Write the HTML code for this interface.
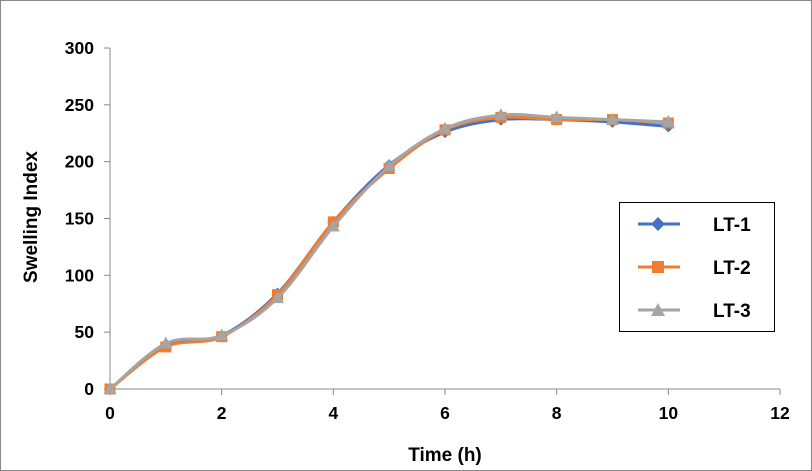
<!DOCTYPE html>
<html><head><meta charset="utf-8"><style>
body{margin:0;background:#fff}
svg{display:block;font-family:"Liberation Sans",Arial,sans-serif}
</style></head><body>
<svg id="chart" width="812" height="471" viewBox="0 0 812 471">
<rect x="0.5" y="0.5" width="811" height="470" fill="#fff" stroke="#888"/>
<g id="axes"></g>
<g id="series"></g>
<text x="445" y="461" text-anchor="middle" font-size="19" font-weight="bold">Time (h)</text>
<text transform="translate(37,217) rotate(-90)" text-anchor="middle" font-size="19" font-weight="bold">Swelling Index</text>
<g>
<rect x="619.5" y="202.5" width="155" height="129" fill="#fff" stroke="#000"/>
<g>
<line x1="638" y1="224" x2="680" y2="224" stroke="#4472C4" stroke-width="3"/>
<path d="M658,217 L665,224 L658,231 L651,224Z" fill="#4472C4"/>
<text x="713" y="231" font-size="19" font-weight="bold">LT-1</text></g>
<g>
<line x1="638" y1="267" x2="680" y2="267" stroke="#ED7D31" stroke-width="3"/>
<rect x="652" y="261" width="12" height="12" fill="#ED7D31"/>
<text x="713" y="274" font-size="19" font-weight="bold">LT-2</text></g>
<g>
<line x1="638" y1="310" x2="680" y2="310" stroke="#A5A5A5" stroke-width="3"/>
<path d="M658,303 L665,316 L651,316Z" fill="#A5A5A5"/>
<text x="713" y="317" font-size="19" font-weight="bold">LT-3</text></g>
</g>
</svg>
<script>
const xCats=[0,1,2,3,4,5,6,7,8,9,10];
const lt1=[0,38,47,84,147,197,226,237,237,235,231];
const lt2=[0,37,46,83,147,194,228,239,237,237,234];
const lt3=[0,40,47,80,143,196,229,241,239,237,235];
const xTicks=[0,2,4,6,8,10,12];
const yTicks=[0,50,100,150,200,250,300];
const NS="http://www.w3.org/2000/svg";
const X=v=>110+v*(780-110)/12;
const Y=v=>389-v*(389-48)/300;
function mk(t,a,p){const e=document.createElementNS(NS,t);for(const k in a)e.setAttribute(k,a[k]);p.appendChild(e);return e;}
const ax=document.getElementById('axes');
let l=mk('line',{x1:110,y1:48,x2:110,y2:389,stroke:'#888','stroke-width':1},ax);


l=mk('line',{x1:110,y1:389,x2:780,y2:389,stroke:'#888','stroke-width':1},ax);


yTicks.forEach(v=>{mk('line',{x1:104,y1:Y(v),x2:110,y2:Y(v),stroke:'#888'},ax);
const t=mk('text',{x:94,y:Y(v)+6,'text-anchor':'end','font-size':17.5,'font-weight':'bold'},ax);t.textContent=v;

});
xTicks.forEach(v=>{mk('line',{x1:X(v),y1:389,x2:X(v),y2:395,stroke:'#888'},ax);
const t=mk('text',{x:X(v),y:419,'text-anchor':'middle','font-size':17.5,'font-weight':'bold'},ax);t.textContent=v;

});
function smooth(pts){let d=`M${pts[0][0]},${pts[0][1]}`;
for(let i=0;i<pts.length-1;i++){const p0=pts[i-1]||pts[i],p1=pts[i],p2=pts[i+1],p3=pts[i+2]||p2;
const c1=[p1[0]+(p2[0]-p0[0])/6,p1[1]+(p2[1]-p0[1])/6],c2=[p2[0]-(p3[0]-p1[0])/6,p2[1]-(p3[1]-p1[1])/6];
d+=` C${c1[0]},${c1[1]} ${c2[0]},${c2[1]} ${p2[0]},${p2[1]}`;}return d;}
const sg=document.getElementById('series');
[[lt1,'#4472C4','d','lt1'],[lt2,'#ED7D31','s','lt2'],[lt3,'#A5A5A5','t','lt3']].forEach(([data,c,m,n])=>{
const g=mk('g',{},sg);


const pts=data.map((v,i)=>[X(xCats[i]),Y(v)]);
mk('path',{d:smooth(pts),fill:'none',stroke:c,'stroke-width':3},g);
pts.forEach(([x,y])=>{let e;
if(m=='d')e=mk('path',{d:`M${x},${y-6}L${x+6},${y}L${x},${y+6}L${x-6},${y}Z`,fill:c},g);
else if(m=='s')e=mk('rect',{x:x-5.5,y:y-5.5,width:11,height:11,fill:c},g);
else e=mk('path',{d:`M${x},${y-7}L${x+6.5},${y+5}L${x-6.5},${y+5}Z`,fill:c},g);

});
});
</script>
</body></html>
